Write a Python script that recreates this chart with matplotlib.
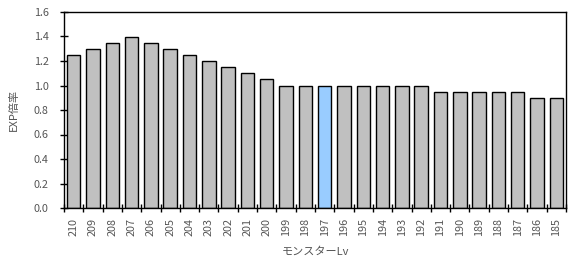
import numpy as np
import matplotlib
matplotlib.use("Agg")
import matplotlib.pyplot as plt
from matplotlib.ticker import FixedLocator

plt.rcParams['font.family'] = ['Noto Sans CJK JP', 'DejaVu Sans']

levels = [210, 209, 208, 207, 206, 205, 204, 203, 202, 201, 200, 199, 198, 197,
          196, 195, 194, 193, 192, 191, 190, 189, 188, 187, 186, 185]
rates = [1.25, 1.30, 1.35, 1.40, 1.35, 1.30, 1.25, 1.20, 1.15, 1.10, 1.05, 1.00, 1.00, 1.00,
         1.00, 1.00, 1.00, 1.00, 1.00, 0.95, 0.95, 0.95, 0.95, 0.95, 0.90, 0.90]
highlight = 197

txt = '#555555'
cols = ['#99CCFF' if lv == highlight else '#C0C0C0' for lv in levels]

fig = plt.figure(figsize=(5.81, 2.67), dpi=100)
ax = fig.add_axes([64 / 581, 1 - 208 / 267, (566 - 64) / 581, (208 - 12) / 267])

x = np.arange(len(levels))
ax.bar(x, rates, width=0.7, color=cols, edgecolor='black', linewidth=1.0, zorder=2)

ax.set_xlim(-0.5, len(levels) - 0.5)
ax.set_ylim(0, 1.6)
ax.set_yticks(np.arange(0, 1.61, 0.2))
ax.set_yticklabels([f'{v:.1f}' for v in np.arange(0, 1.61, 0.2)])
ax.set_xticks(x)
ax.set_xticklabels([str(lv) for lv in levels], rotation=90)
ax.xaxis.set_minor_locator(FixedLocator(np.arange(-0.5, len(levels), 1.0)))

ax.tick_params(axis='x', which='major', length=0, pad=7, labelsize=7.8, labelcolor=txt)
ax.tick_params(axis='x', which='minor', direction='inout', length=6, width=1, color='black')
ax.tick_params(axis='y', which='major', direction='inout', length=6, width=1, color='black',
               pad=8, labelsize=7.8, labelcolor=txt)

for s in ax.spines.values():
    s.set_linewidth(1.0)
    s.set_color('black')

ax.set_xlabel('モンスターLv', fontsize=8, color=txt, labelpad=8)
ax.set_ylabel('EXP倍率', fontsize=8, color=txt, labelpad=11)

fig.savefig('out.png', dpi=100)
